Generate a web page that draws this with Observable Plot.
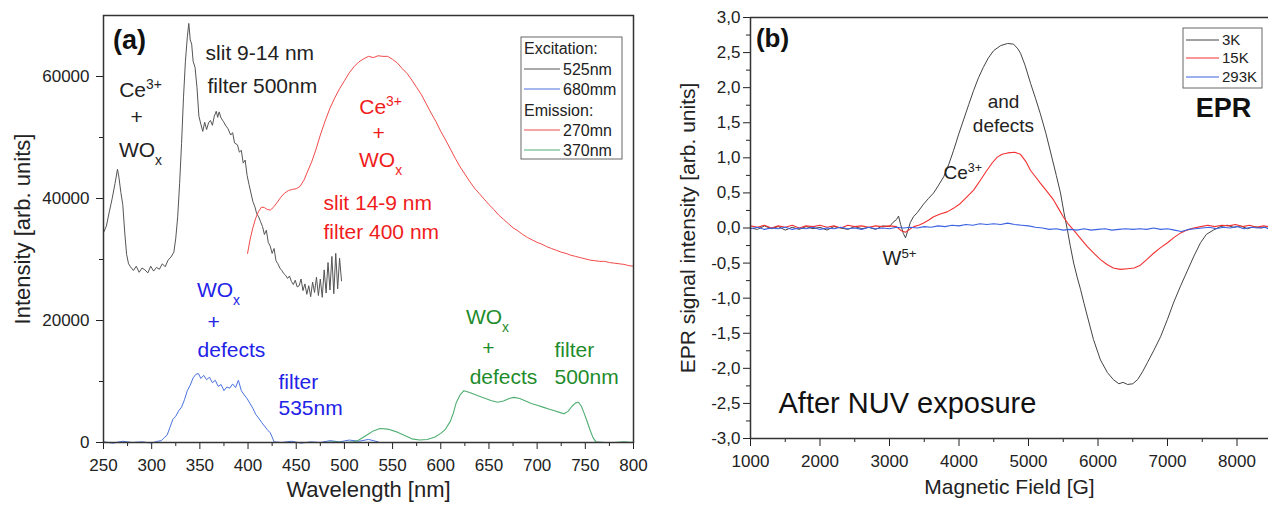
<!DOCTYPE html>
<html><head><meta charset="utf-8">
<script src="https://cdn.jsdelivr.net/npm/d3@7"></script>
<script src="https://cdn.jsdelivr.net/npm/@observablehq/plot@0.6"></script>
<style>
html,body{margin:0;padding:0;background:#fff;}
#wrap{position:relative;width:1268px;height:509px;overflow:hidden;font-family:"Liberation Sans",Arial,sans-serif;background:#fff;}
#a,#b{position:absolute;top:0;}
#a{left:0;} #b{left:640px;}
</style></head><body><div id="wrap"><div id="a"></div><div id="b"></div></div>
<script>
const FONT = '"Liberation Sans", Arial, sans-serif';

// ---------- Panel (a): photoluminescence, wavelength [nm] vs intensity ----------
const exc525 = [[250,34400],[253,35500],[256,37800],[259,40000],[262,42500],[264.5,44800],[266,43500],[268,41000],[270,39000],[272,34500],[274,30800],[276,29300],[278,28800],[281,28200],[284,28900],[287,27900],[290,28600],[293,28300],[296,27800],[299,28900],[302,28100],[305,28700],[308,28400],[311,29300],[314,28800],[317,29900],[320,30400],[323,31200],[325,33500],[327,37000],[329,42500],[331,49000],[333,56500],[335,62500],[337,66500],[338.5,68700],[340,66000],[341.5,65300],[343,62500],[345,61500],[347,58200],[349,53500],[351,52200],[353,51000],[355,52500],[357,51300],[359,52400],[361,52800],[363,52000],[365,53500],[367,54300],[368.5,53300],[370,54200],[372,53200],[374.5,52600],[377,51900],[379,51500],[382,50400],[384,50800],[386,49100],[389,48800],[391,47600],[393,47900],[395,45800],[397,46300],[399,43800],[401,42300],[403,40900],[405,39500],[407,38700],[409,37500],[411,37000],[413,36200],[415,35400],[417,34100],[419,34800],[421,32800],[423,32200],[425,31000],[427,31800],[429,29800],[431,29300],[433,28600],[435,28200],[437,27700],[439,27400],[441,26900],[443,27300],[445,26400],[447,25900],[449,26600],[451,25500],[453,25700],[455,26800],[457,24900],[459,26000],[461,24300],[463,25700],[465,23900],[467,26300],[469,24600],[471,27100],[473,24100],[475,26800],[477,23800],[479,28300],[481,24500],[483,29500],[485,25000],[487,30500],[489,24400],[491,31000],[493,25200],[495,30200],[497,26500]];
const exc680 = [[250,100],[260,-100],[270,200],[280,0],[290,100],[300,-100],[306,200],[310,300],[313,800],[316,1200],[319,2500],[322,3800],[325,4300],[328,5200],[331,5800],[334,7000],[337,8500],[340,9400],[343,10600],[346,11200],[348.5,11300],[351,10500],[354,11000],[357,10300],[360,10700],[363,9800],[366,10200],[369,9200],[372,9500],[375,8500],[378,9100],[381,8900],[384,9600],[387,9000],[390,10200],[393,8500],[396,7800],[399,7200],[402,6400],[405,5600],[408,4600],[411,4000],[414,3300],[417,2700],[420,2100],[423,1600],[425,900],[427,100],[435,0],[445,200],[455,-100],[465,100],[475,0],[485,300],[495,100],[505,400],[515,200],[525,500],[535,100]];
const em270 = [[399.5,31000],[402,33200],[405,35200],[408,36800],[411,37900],[414,38600],[417,38500],[420,38200],[423,38100],[426,38500],[430,39300],[434,40200],[438,40900],[442,41300],[446,41500],[450,41600],[454,42000],[458,43000],[462,44500],[466,46000],[470,47800],[475,50400],[480,52700],[485,54800],[490,56500],[495,58000],[500,59300],[505,60600],[510,61600],[515,62400],[520,62900],[525,63300],[530,63100],[535,63400],[540,63300],[545,63300],[550,62800],[555,62200],[560,61300],[565,60500],[570,59400],[575,58200],[580,57000],[585,55500],[590,54000],[595,52600],[600,51000],[605,49600],[610,48100],[615,46600],[620,45200],[625,44000],[630,42800],[635,41700],[640,40800],[645,39900],[650,39000],[655,38200],[660,37300],[665,36600],[670,35900],[675,35200],[680,34700],[685,34100],[690,33600],[695,33200],[700,32800],[705,32500],[710,32100],[715,31800],[720,31500],[725,31200],[730,31000],[735,30700],[740,30500],[745,30300],[750,30100],[755,29900],[760,29800],[765,29700],[770,29700],[775,29500],[780,29400],[785,29300],[790,29200],[795,29000],[800,28900]];
const em370 = [[480,0],[490,100],[500,0],[510,100],[515,400],[520,900],[525,1400],[530,1900],[537,2300],[545,2200],[555,1700],[562,1200],[570,600],[578,400],[586,500],[594,900],[600,1500],[605,2200],[610,3500],[613,4800],[616,6500],[620,7800],[624,8500],[630,8200],[638,7700],[645,7300],[652,6900],[659,6600],[665,6800],[671,7200],[676,7400],[682,7200],[688,6800],[694,6400],[700,6100],[706,5800],[712,5500],[718,5200],[724,4900],[728,4700],[732,5100],[736,5900],[740,6500],[743,6600],[746,5900],[749,4700],[752,3400],[755,2000],[758,800],[761,100],[770,0],[780,0],[790,100],[800,0]];
const xTicksA = [250,300,350,400,450,500,550,600,650,700,750,800];
const xMinorA = [275,325,375,425,475,525,575,625,675,725,775];
const yTicksA = [0,20000,40000,60000];
const yMinorA = [10000,30000,50000];
const legendA = ["Excitation:", "525nm", "680mm", "Emission:", "270mn", "370nm"];

// ---------- Panel (b): EPR, magnetic field [G] vs signal ----------
const epr3K = [[1000,0.00],[1100,-0.02],[1200,0.03],[1300,-0.01],[1400,0.02],[1500,-0.03],[1600,0.01],[1700,-0.02],[1800,0.02],[1900,-0.01],[2000,0.01],[2100,-0.03],[2200,0.02],[2300,0.00],[2400,-0.02],[2500,0.02],[2600,-0.01],[2700,0.01],[2800,-0.02],[2900,0.03],[3000,0.02],[3050,0.08],[3100,0.12],[3130,0.17],[3160,0.05],[3200,-0.08],[3230,-0.14],[3260,-0.05],[3300,0.08],[3345,0.16],[3400,0.22],[3490,0.34],[3560,0.42],[3635,0.50],[3700,0.60],[3780,0.73],[3850,0.90],[3920,1.10],[4000,1.35],[4065,1.54],[4140,1.76],[4210,1.96],[4280,2.14],[4350,2.29],[4420,2.42],[4500,2.53],[4600,2.60],[4700,2.63],[4785,2.62],[4850,2.55],[4885,2.49],[4950,2.32],[5030,2.06],[5100,1.85],[5170,1.63],[5250,1.35],[5320,1.07],[5400,0.75],[5460,0.50],[5510,0.22],[5560,-0.03],[5600,-0.25],[5650,-0.50],[5700,-0.70],[5750,-0.88],[5800,-1.08],[5850,-1.27],[5935,-1.59],[6035,-1.88],[6135,-2.06],[6220,-2.16],[6300,-2.22],[6360,-2.20],[6425,-2.23],[6500,-2.22],[6570,-2.16],[6640,-2.05],[6710,-1.92],[6800,-1.75],[6900,-1.55],[7000,-1.30],[7085,-1.07],[7190,-0.82],[7290,-0.60],[7380,-0.40],[7475,-0.21],[7560,-0.09],[7660,-0.03],[7760,0.02],[7860,0.04],[7950,0.01],[8050,0.03],[8150,-0.01],[8250,0.02],[8350,0.00],[8450,0.02]];
const epr15K = [[1000,0.03],[1100,0.01],[1200,0.04],[1300,0.00],[1400,0.03],[1500,0.01],[1600,0.04],[1700,0.00],[1800,0.03],[1900,0.02],[2000,0.04],[2100,0.01],[2200,0.03],[2300,0.00],[2400,0.04],[2500,0.02],[2600,0.03],[2700,0.01],[2800,0.03],[2900,0.02],[3000,0.03],[3100,0.02],[3170,-0.04],[3230,-0.06],[3290,-0.02],[3350,0.02],[3420,0.04],[3490,0.07],[3560,0.11],[3635,0.16],[3730,0.20],[3830,0.23],[3920,0.28],[4020,0.35],[4110,0.44],[4210,0.54],[4300,0.67],[4400,0.82],[4480,0.93],[4550,1.01],[4620,1.05],[4700,1.07],[4800,1.08],[4885,1.05],[4960,0.95],[5030,0.82],[5100,0.73],[5170,0.64],[5260,0.53],[5360,0.40],[5430,0.28],[5500,0.16],[5570,0.06],[5650,-0.03],[5750,-0.15],[5850,-0.27],[5950,-0.37],[6035,-0.45],[6130,-0.52],[6220,-0.57],[6320,-0.59],[6425,-0.58],[6520,-0.57],[6610,-0.53],[6700,-0.45],[6800,-0.36],[6900,-0.28],[7000,-0.21],[7100,-0.13],[7190,-0.07],[7280,-0.03],[7375,0.00],[7480,0.02],[7580,0.04],[7680,0.02],[7780,0.04],[7880,0.03],[7980,0.05],[8080,0.02],[8180,0.04],[8280,0.01],[8380,0.03],[8450,0.02]];
const epr293K = [[1000,-0.01],[1100,0.01],[1200,-0.02],[1300,0.00],[1400,-0.01],[1500,0.01],[1600,-0.02],[1700,0.00],[1800,-0.01],[1900,0.01],[2000,-0.02],[2100,0.00],[2200,-0.01],[2300,0.01],[2400,-0.01],[2500,0.00],[2600,-0.02],[2700,0.01],[2800,-0.01],[2900,0.00],[3000,-0.01],[3100,0.01],[3200,0.00],[3300,0.01],[3400,0.00],[3500,0.02],[3600,0.01],[3700,0.03],[3800,0.02],[3900,0.04],[4000,0.03],[4100,0.05],[4200,0.04],[4300,0.06],[4400,0.05],[4500,0.06],[4600,0.05],[4700,0.07],[4800,0.05],[4900,0.04],[5000,0.03],[5100,0.01],[5200,0.00],[5300,-0.02],[5400,-0.01],[5500,-0.03],[5600,-0.02],[5700,-0.03],[5800,-0.01],[5900,-0.03],[6000,-0.02],[6100,-0.01],[6200,-0.03],[6300,-0.02],[6400,-0.01],[6500,-0.02],[6600,-0.01],[6700,-0.02],[6800,0.00],[6900,-0.02],[7000,-0.01],[7100,-0.03],[7200,-0.05],[7300,-0.02],[7400,-0.01],[7500,0.00],[7600,0.01],[7700,-0.01],[7800,0.01],[7900,0.00],[8000,0.02],[8100,-0.01],[8200,0.01],[8300,0.00],[8400,0.01],[8450,-0.01]];
const xTicksB = [1000,2000,3000,4000,5000,6000,7000,8000];
const xMinorB = [1500,2500,3500,4500,5500,6500,7500];
const yTicksB = [-3,-2.5,-2,-1.5,-1,-0.5,0,0.5,1,1.5,2,2.5,3];
const yMinorB = [-2.75,-2.25,-1.75,-1.25,-0.75,-0.25,0.25,0.75,1.25,1.75,2.25,2.75];
const legendB = ["3K", "15K", "293K"];

// ---------- annotation layout (data coordinates) ----------
const annA = [
  {x:277, y:65900, t:"(a)", c:"#111", a:"middle", s:27, w:"bold"},
  {x:355.9, y:63770, t:"slit 9-14 nm", c:"#222", a:"start", s:21},
  {x:357.9, y:58360, t:"filter 500nm", c:"#222", a:"start", s:21},
  {x:288.4, y:57700, t:"Ce^{3+}", c:"#222", a:"middle", s:21},
  {x:284.5, y:53280, t:"+", c:"#222", a:"middle", s:21},
  {x:288.4, y:47870, t:"WO_{x}", c:"#222", a:"middle", s:21},
  {x:537.5, y:54900, t:"Ce^{3+}", c:"#f01c1c", a:"middle", s:21},
  {x:535.4, y:50650, t:"+", c:"#f01c1c", a:"middle", s:21},
  {x:537.5, y:46230, t:"WO_{x}", c:"#f01c1c", a:"middle", s:21},
  {x:478.3, y:39180, t:"slit 14-9 nm", c:"#f01c1c", a:"start", s:21},
  {x:478.3, y:34430, t:"filter 400 nm", c:"#f01c1c", a:"start", s:21},
  {x:369.3, y:24920, t:"WO_{x}", c:"#2222e8", a:"middle", s:21},
  {x:364.2, y:19670, t:"+", c:"#2222e8", a:"middle", s:21},
  {x:382.8, y:15080, t:"defects", c:"#2222e8", a:"middle", s:21},
  {x:431.6, y:9840, t:"filter", c:"#2222e8", a:"start", s:21},
  {x:431.6, y:5570, t:"535nm", c:"#2222e8", a:"start", s:21},
  {x:648.5, y:20490, t:"WO_{x}", c:"#1e8c2c", a:"middle", s:21},
  {x:649.5, y:15410, t:"+", c:"#1e8c2c", a:"middle", s:21},
  {x:665.1, y:10660, t:"defects", c:"#1e8c2c", a:"middle", s:21},
  {x:718.0, y:15080, t:"filter", c:"#1e8c2c", a:"start", s:21},
  {x:718.0, y:10660, t:"500nm", c:"#1e8c2c", a:"start", s:21}
];
const annB = [
  {x:1317, y:2.70, t:"(b)", c:"#111", a:"middle", s:26, w:"bold"},
  {x:4640, y:1.79, t:"and", c:"#222", a:"middle", s:19},
  {x:4640, y:1.46, t:"defects", c:"#222", a:"middle", s:19},
  {x:3777, y:0.78, t:"Ce^{3+}", c:"#222", a:"start", s:19},
  {x:2899, y:-0.43, t:"W^{5+}", c:"#222", a:"start", s:20},
  {x:1403, y:-2.50, t:"After NUV exposure", c:"#111", a:"start", s:29},
  {x:7806, y:1.71, t:"EPR", c:"#111", a:"middle", s:27, w:"bold"}
];

const px = d => d[0], py = d => d[1];
const annMarks = arr => arr.map(o => Plot.text([o], {x:"x", y:"y", text:"t", fill:o.c, textAnchor:o.a, fontSize:o.s, fontWeight:o.w || "normal"}));

const plotA = Plot.plot({
  width: 655, height: 509, marginLeft: 103, marginRight: 22, marginTop: 15, marginBottom: 67,
  x: {domain: [250, 800]}, y: {domain: [0, 70000]},
  style: {fontFamily: FONT, fontSize: "17px", color: "#222", background: "#fff"},
  marks: [
    Plot.axisX({ticks: xTicksA, tickSize: 7, tickPadding: 9, fontSize: 17, label: null, tickFormat: d => String(d)}),
    Plot.axisX({ticks: xMinorA, tickSize: 4, tickFormat: () => "", label: null}),
    Plot.axisY({ticks: yTicksA, tickSize: 7, tickPadding: 7, fontSize: 17, label: null, tickFormat: d => String(d)}),
    Plot.axisY({ticks: yMinorA, tickSize: 4, tickFormat: () => "", label: null}),
    Plot.line(exc680, {x: px, y: py, stroke: "#4a72e0", strokeWidth: 1}),
    Plot.line(em370, {x: px, y: py, stroke: "#4fae72", strokeWidth: 1.1}),
    Plot.line(exc525, {x: px, y: py, stroke: "#555", strokeWidth: 1}),
    Plot.line(em270, {x: px, y: py, stroke: "#f24a4a", strokeWidth: 1}),
    Plot.frame({stroke: "#333", strokeWidth: 1.5}),
    Plot.text(["Intensity [arb. units]"], {frameAnchor: "left", textAnchor: "middle", dx: -81, rotate: -90, fontSize: 22, fill: "#222"}),
    Plot.text(["Wavelength [nm]"], {frameAnchor: "bottom", textAnchor: "middle", dy: 54, fontSize: 22, fill: "#222"}),
    ...annMarks(annA)
  ]
});

const plotB = Plot.plot({
  width: 628, height: 509, marginLeft: 110, marginRight: 0, marginTop: 17, marginBottom: 71,
  x: {domain: [1000, 8453]}, y: {domain: [-3, 3]},
  style: {fontFamily: FONT, fontSize: "17px", color: "#222", background: "transparent"},
  marks: [
    Plot.axisX({ticks: xTicksB, tickSize: 8, tickPadding: 8, fontSize: 17, label: null, tickFormat: d => String(d)}),
    Plot.axisX({ticks: xMinorB, tickSize: 4, tickFormat: () => "", label: null}),
    Plot.axisY({ticks: yTicksB, tickSize: 7, tickPadding: 3, fontSize: 17, label: null, tickFormat: d => d.toFixed(1).replace(".", ",")}),
    Plot.axisY({ticks: yMinorB, tickSize: 4, tickFormat: () => "", label: null}),
    Plot.line(epr3K, {x: px, y: py, stroke: "#444", strokeWidth: 1}),
    Plot.line(epr15K, {x: px, y: py, stroke: "#f23030", strokeWidth: 1.1}),
    Plot.line(epr293K, {x: px, y: py, stroke: "#3a62e2", strokeWidth: 1.1}),
    Plot.ruleY([-3, 3], {stroke: "#333", strokeWidth: 1.5}),
    Plot.ruleX([1000], {stroke: "#333", strokeWidth: 1.5}),
    Plot.text(["EPR signal intensity [arb. units]"], {frameAnchor: "left", textAnchor: "middle", dx: -62, rotate: -90, fontSize: 21, fill: "#222"}),
    Plot.text(["Magnetic Field [G]"], {frameAnchor: "bottom", textAnchor: "middle", dy: 55, fontSize: 21, fill: "#222"}),
    ...annMarks(annB)
  ]
});

document.getElementById("a").appendChild(plotA);
document.getElementById("b").appendChild(plotB);

// super/subscripts as tspans
function richText(svg) {
  const NS = "http://www.w3.org/2000/svg";
  svg.querySelectorAll("text").forEach(t => {
    const s = t.textContent;
    if (!/[\^_]\{/.test(s)) return;
    t.textContent = "";
    const re = /([\^_])\{([^}]*)\}/g;
    let last = 0, m;
    const add = (str, kind) => {
      const ts = document.createElementNS(NS, "tspan");
      ts.textContent = str;
      if (kind) { ts.setAttribute("baseline-shift", kind === "^" ? "super" : "sub"); ts.setAttribute("font-size", "66%"); }
      t.appendChild(ts);
    };
    while ((m = re.exec(s))) { if (m.index > last) add(s.slice(last, m.index)); add(m[2], m[1]); last = re.lastIndex; }
    if (last < s.length) add(s.slice(last));
  });
}
richText(plotA); richText(plotB);

// in-plot legends
function drawLegend(svg, box, rows, fs) {
  const g = d3.select(svg).append("g").attr("font-family", FONT).attr("font-size", fs)
    .attr("fill", "#222").attr("text-anchor", "start");
  g.append("rect").attr("x", box.x).attr("y", box.y).attr("width", box.w).attr("height", box.h)
    .attr("fill", "#fff").attr("stroke", "#666").attr("stroke-width", 1);
  rows.forEach(r => {
    if (r.color) {
      g.append("line").attr("x1", box.x + 3).attr("x2", box.lx2).attr("y1", r.y).attr("y2", r.y)
        .attr("stroke", r.color).attr("stroke-width", 1);
      g.append("text").attr("x", box.tx).attr("y", r.y).attr("dy", "0.35em").attr("text-anchor", "start").text(r.label);
    } else {
      g.append("text").attr("x", box.x + 3).attr("y", r.y).attr("dy", "0.35em").attr("text-anchor", "start").text(r.label);
    }
  });
}
drawLegend(plotA, {x: 521, y: 37, w: 101, h: 122, lx2: 560, tx: 563}, [
  {label: legendA[0], y: 48},
  {label: legendA[1], y: 69, color: "#555"},
  {label: legendA[2], y: 89, color: "#4a72e0"},
  {label: legendA[3], y: 110, color: null},
  {label: legendA[4], y: 130, color: "#f24a4a"},
  {label: legendA[5], y: 150, color: "#4fae72"}
], 16);
drawLegend(plotB, {x: 543, y: 28, w: 79, h: 60, lx2: 579, tx: 582}, [
  {label: legendB[0], y: 40, color: "#444"},
  {label: legendB[1], y: 58, color: "#f23030"},
  {label: legendB[2], y: 77, color: "#3a62e2"}
], 15);
</script>
</body></html>
